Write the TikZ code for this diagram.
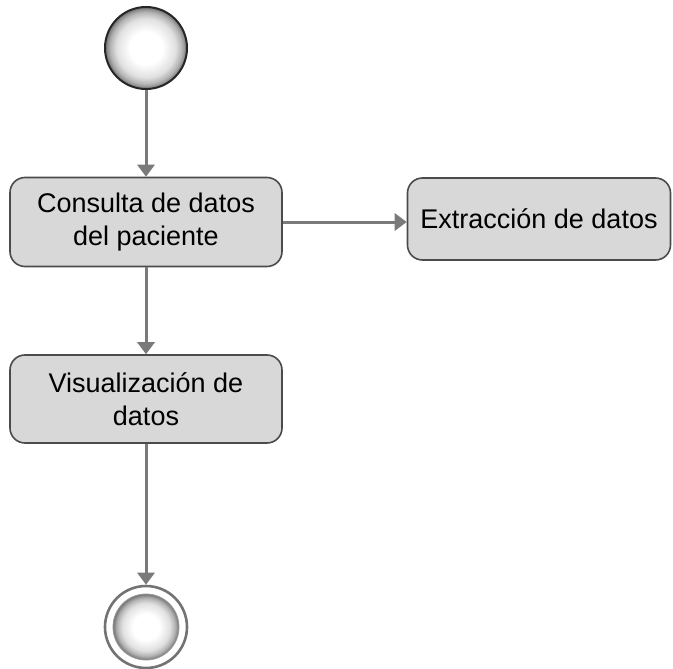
\documentclass[tikz,border=0pt]{standalone}
\usepackage{fontspec}
\setmainfont{Liberation Sans}
\usetikzlibrary{arrows.meta}
\definecolor{boxfill}{RGB}{216,216,216}
\definecolor{boxline}{RGB}{75,75,75}
\definecolor{arrowgray}{RGB}{122,122,122}
\pgfdeclareradialshading{ballshade}{\pgfpoint{0bp}{0bp}}{%
  color(0bp)=(white); color(10bp)=(white); color(18bp)=(black!12);
  color(22bp)=(black!30); color(25bp)=(black!55); color(50bp)=(black!55)}
\tikzset{
  actbox/.style={draw=boxline, line width=1.6pt, fill=boxfill, rounded corners=15pt,
    align=center, font=\fontsize{27}{33}\selectfont, inner sep=0pt},
  flow/.style={draw=arrowgray, line width=3pt, -{Triangle[width=17pt,length=12pt]}},
  startnode/.style={circle, draw=black!85, line width=2pt, minimum size=82pt, inner sep=0pt,
    shading=ballshade},
  endouter/.style={circle, draw=black!55, line width=2.6pt, minimum size=82pt, inner sep=0pt, fill=white},
  endinner/.style={circle, draw=black!40, line width=0.8pt, minimum size=66pt, inner sep=0pt,
    shading=ballshade},
}
\begin{document}
\begin{tikzpicture}[x=1pt,y=-1pt]
\useasboundingbox (0,0) rectangle (673,669);
\node[startnode] (start) at (146,48) {};
\node[actbox, minimum width=272pt, minimum height=89pt] (consulta) at (146,222) {Consulta de datos\\del paciente};
\node[actbox, minimum width=263pt, minimum height=82pt] (extr) at (539,219) {Extracción de datos};
\node[actbox, minimum width=272pt, minimum height=88pt] (visual) at (146,399) {Visualización de\\datos};
\node[endouter] (endo) at (146,627) {};
\node[endinner] (endi) at (146,627) {};
\draw[flow] (start) -- (consulta);
\draw[flow] (consulta.east) -- (consulta.east -| extr.west);
\draw[flow] (consulta) -- (visual);
\draw[flow] (visual) -- (endo);
\end{tikzpicture}
\end{document}
